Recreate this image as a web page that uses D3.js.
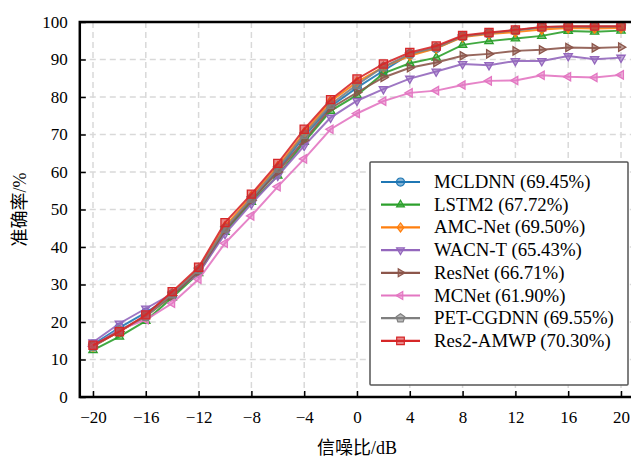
<!DOCTYPE html>
<html>
<head>
<meta charset="utf-8">
<style>
  body { margin: 0; background: #fff; }
  svg { display: block; font-family: "Liberation Serif", "Times New Roman", Tinos, "DejaVu Serif", serif, "Noto Sans CJK SC"; }
</style>
</head>
<body>
<svg width="631" height="459"></svg>
<script src="https://d3js.org/d3.v7.min.js"></script>
<script>
const snr = d3.range(-20, 21, 2);
const xTicks = [-20, -16, -12, -8, -4, 0, 4, 8, 12, 16, 20];
const yTicks = [0, 10, 20, 30, 40, 50, 60, 70, 80, 90, 100];

const names = ["MCLDNN (69.45%)", "LSTM2 (67.72%)", "AMC-Net (69.50%)", "WACN-T (65.43%)",
  "ResNet (66.71%)", "MCNet (61.90%)", "PET-CGDNN (69.55%)", "Res2-AMWP (70.30%)"];

const mcldnn = [14.0, 18.5, 22.5, 27.0, 33.5, 44.5, 52.5, 60.5, 69.5, 77.5, 82.5, 87.0, 91.4, 93.0, 96.2, 97.0, 97.7, 98.5, 98.7, 98.7, 98.7];
const lstm2 = [12.5, 16.1, 20.3, 26.5, 33.0, 44.0, 52.0, 59.0, 68.0, 76.3, 80.5, 86.3, 89.0, 90.5, 93.9, 94.9, 95.6, 96.3, 97.6, 97.4, 97.7];
const amcnet = [13.5, 17.5, 21.5, 27.5, 34.0, 45.5, 53.5, 61.5, 70.5, 78.8, 84.0, 88.0, 91.0, 93.0, 96.0, 96.8, 97.3, 98.0, 98.4, 98.3, 98.4];
const wacnt = [14.6, 19.6, 23.6, 27.5, 33.0, 43.5, 51.5, 59.0, 67.0, 74.5, 79.0, 82.1, 84.9, 86.8, 88.8, 88.5, 89.6, 89.6, 90.9, 90.1, 90.5];
const resnet = [13.5, 17.5, 21.5, 27.0, 33.5, 44.5, 52.5, 60.0, 68.5, 77.0, 81.2, 85.2, 87.8, 89.2, 91.0, 91.5, 92.3, 92.6, 93.2, 93.1, 93.3];
const mcnet = [13.5, 18.0, 20.6, 25.0, 31.4, 41.0, 48.3, 56.1, 63.5, 71.4, 75.6, 78.9, 81.1, 81.7, 83.2, 84.3, 84.4, 85.8, 85.4, 85.2, 85.9];
const petcgdnn = [13.5, 17.8, 21.5, 27.5, 34.0, 45.0, 53.0, 61.0, 70.0, 78.0, 83.3, 88.0, 91.5, 93.2, 96.2, 97.0, 97.8, 98.6, 98.8, 98.8, 98.8];
const res2amwp = [13.8, 17.4, 21.9, 28.1, 34.6, 46.5, 54.1, 62.3, 71.4, 79.3, 84.8, 88.8, 91.9, 93.6, 96.4, 97.2, 97.9, 98.7, 98.9, 98.9, 98.9];

const seriesValues = [mcldnn, lstm2, amcnet, wacnt, resnet, mcnet, petcgdnn, res2amwp];
const colors = ["#1f77b4", "#2ca02c", "#ff7f0e", "#9467bd", "#8c564b", "#e377c2", "#7f7f7f", "#d62728"];
const shapes = ["circle", "triUp", "diamond", "triDown", "triRight", "triLeft", "pentagon", "square"];

const svg = d3.select("svg");
const x = d3.scaleLinear().domain([-20, 20]).range([93, 621]);
const y = d3.scaleLinear().domain([0, 100]).range([397, 22]);
const pLeft = x(-21), pRight = x(21), pTop = y(100), pBottom = y(0);
const serif = '"Liberation Serif", "Times New Roman", Tinos, "DejaVu Serif", serif';

// grid
const grid = svg.append("g").attr("stroke", "#d9d9d9").attr("stroke-width", 1.5).attr("stroke-dasharray", "6,4");
grid.selectAll(".gx").data(xTicks).enter().append("line")
  .attr("x1", d => x(d)).attr("x2", d => x(d)).attr("y1", pTop).attr("y2", pBottom);
grid.selectAll(".gy").data(yTicks.slice(1, -1)).enter().append("line")
  .attr("y1", d => y(d)).attr("y2", d => y(d)).attr("x1", pLeft).attr("x2", pRight);

// axes (ticks inward)
const xAxis = svg.append("g").attr("transform", `translate(0,${pBottom})`)
  .call(d3.axisBottom(x).tickValues(xTicks).tickSizeInner(-6).tickSizeOuter(0).tickPadding(14)
    .tickFormat(d => d < 0 ? "\u2212" + Math.abs(d) : d));
const yAxis = svg.append("g").attr("transform", `translate(${pLeft},0)`)
  .call(d3.axisLeft(y).tickValues(yTicks).tickSizeInner(-6).tickSizeOuter(0).tickPadding(12));
[xAxis, yAxis].forEach(a => {
  a.attr("font-family", null);
  a.select(".domain").remove();
  a.selectAll(".tick line").attr("stroke", "#000").attr("stroke-width", 1.5);
  a.selectAll(".tick text").attr("font-size", 17).attr("font-family", serif).attr("fill", "#000");
});

// series
function symbolPath(shape, s) {
  const r = s;
  if (shape === "circle") return d3.symbol(d3.symbolCircle, Math.PI * r * r * 0.8)();
  if (shape === "square") return `M${-r*0.85},${-r*0.85}H${r*0.85}V${r*0.85}H${-r*0.85}Z`;
  if (shape === "diamond") return `M0,${-r}L${r*0.75},0L0,${r}L${-r*0.75},0Z`;
  if (shape === "pentagon") return d3.line()(d3.range(5).map(i => {
    const a = -Math.PI / 2 + i * 2 * Math.PI / 5; return [r * Math.cos(a), r * Math.sin(a)];
  })) + "Z";
  const tri = a => d3.line()(d3.range(3).map(i => {
    const t = a + i * 2 * Math.PI / 3; return [r * Math.cos(t), r * Math.sin(t)];
  })) + "Z";
  if (shape === "triUp") return tri(-Math.PI / 2);
  if (shape === "triDown") return tri(Math.PI / 2);
  if (shape === "triRight") return tri(0);
  if (shape === "triLeft") return tri(Math.PI);
}

const line = d3.line().x((d, i) => x(snr[i])).y(d => y(d));
seriesValues.forEach((vals, k) => {
  const g = svg.append("g");
  g.append("path").attr("d", line(vals)).attr("fill", "none")
    .attr("stroke", colors[k]).attr("stroke-width", 2).attr("stroke-opacity", 0.9);
  g.selectAll("path.m").data(vals).enter().append("path").attr("class", "m")
    .attr("transform", (d, i) => `translate(${x(snr[i])},${y(d)})`)
    .attr("d", symbolPath(shapes[k], 4.8))
    .attr("fill", colors[k]).attr("fill-opacity", 0.55)
    .attr("stroke", colors[k]).attr("stroke-width", 1.3);
});

// spines
svg.append("rect").attr("x", pLeft).attr("y", pTop).attr("width", pRight - pLeft).attr("height", pBottom - pTop)
  .attr("fill", "none").attr("stroke", "#000").attr("stroke-width", 2.5);

// legend
const lg = svg.append("g").attr("transform", "translate(370,162)");
lg.append("rect").attr("width", 258).attr("height", 223).attr("fill", "#fff")
  .attr("stroke", "#555").attr("stroke-width", 1.5).attr("rx", 1);
names.forEach((n, k) => {
  const yy = 20 + k * 22.7;
  lg.append("line").attr("x1", 11).attr("x2", 50).attr("y1", yy).attr("y2", yy)
    .attr("stroke", colors[k]).attr("stroke-width", 2.2);
  lg.append("path").attr("transform", `translate(30.5,${yy})`).attr("d", symbolPath(shapes[k], 4.5))
    .attr("fill", colors[k]).attr("fill-opacity", 0.55).attr("stroke", colors[k]).attr("stroke-width", 1.2);
  lg.append("text").attr("x", 64).attr("y", yy + 6).attr("font-size", 18.8).attr("font-family", serif).text(n);
});

// axis labels
svg.append("text").attr("x", (x(-20) + x(20)) / 2).attr("y", 454).attr("text-anchor", "middle")
  .attr("font-size", 18).text("信噪比/dB");
svg.append("text").attr("transform", `translate(26,${(pTop + pBottom) / 2}) rotate(-90)`)
  .attr("text-anchor", "middle").attr("font-size", 18).text("准确率/%");
</script>
</body>
</html>
